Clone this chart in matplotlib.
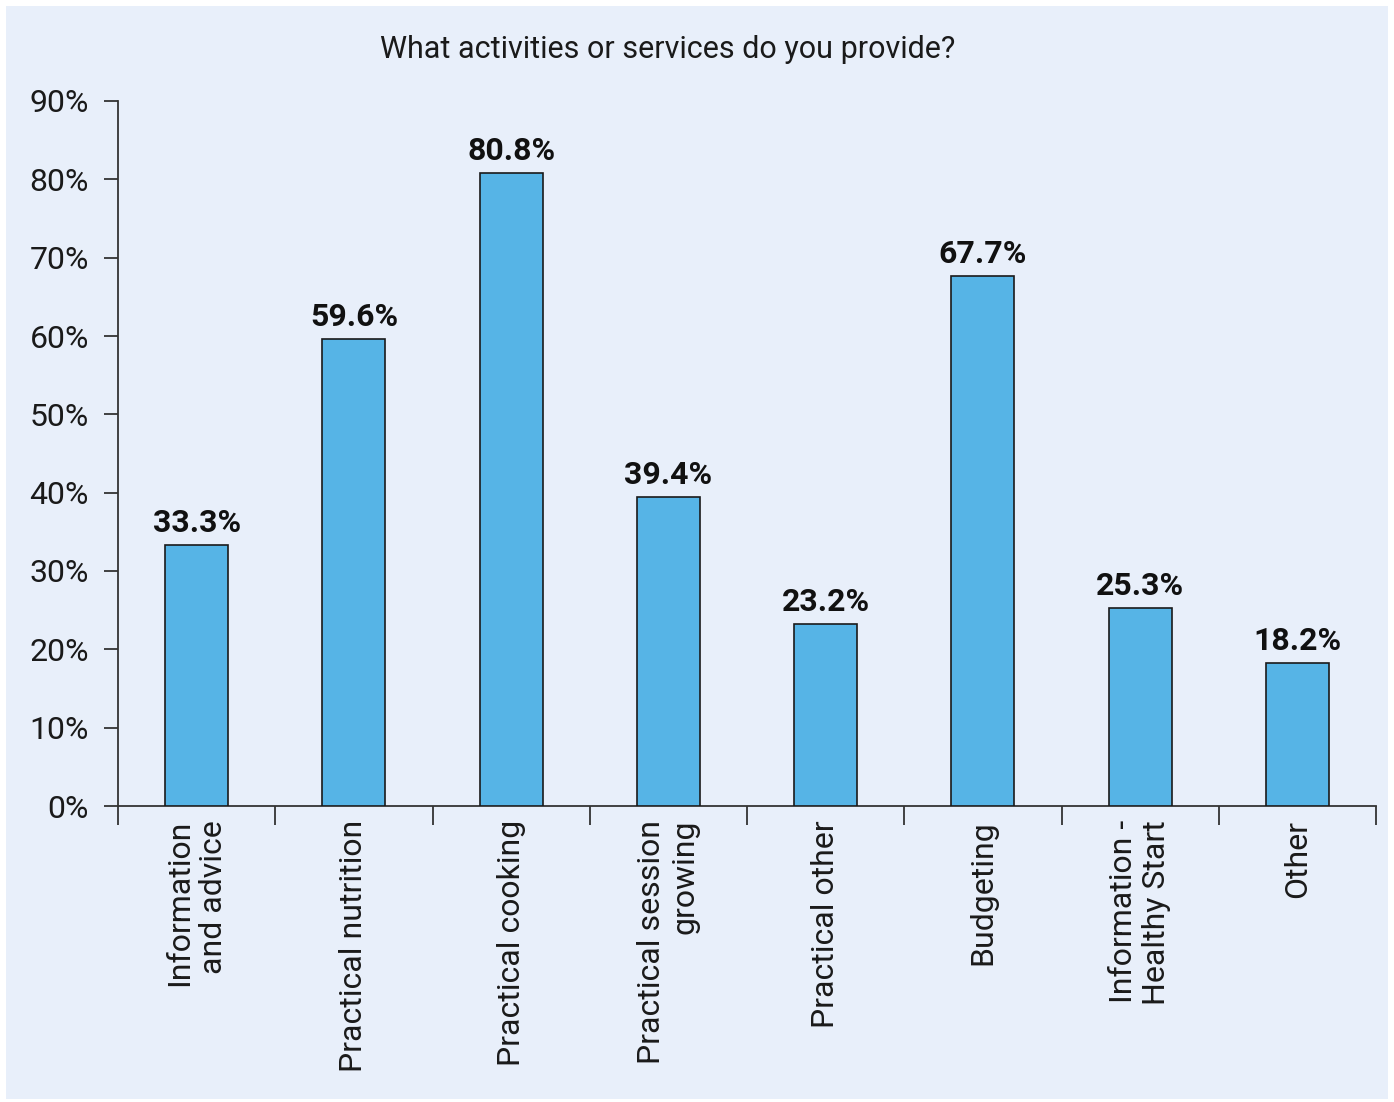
import matplotlib
matplotlib.use("Agg")
import matplotlib.pyplot as plt
from matplotlib.patches import Rectangle
import numpy as np

categories = ["Information\nand advice", "Practical nutrition", "Practical cooking",
              "Practical session\ngrowing", "Practical other", "Budgeting",
              "Information -\nHealthy Start", "Other"]
values = [33.3, 59.6, 80.8, 39.4, 23.2, 67.7, 25.3, 18.2]
value_labels = ["33.3%", "59.6%", "80.8%", "39.4%", "23.2%", "67.7%", "25.3%", "18.2%"]
yticks = [0, 10, 20, 30, 40, 50, 60, 70, 80, 90]
ytick_labels = ["0%", "10%", "20%", "30%", "40%", "50%", "60%", "70%", "80%", "90%"]
title = "What activities or services do you provide?"

plt.rcParams['font.family'] = ['Roboto', 'DejaVu Sans']
W, H = 1394, 1102
bg = "#E8EFFA"
fig = plt.figure(figsize=(W/100, H/100), dpi=100, facecolor="white")
fig.patches.append(Rectangle((6/W, 3/H), 1 - 12/W, 1 - 9/H, transform=fig.transFigure,
                             facecolor=bg, edgecolor="none", zorder=-10))

ax = fig.add_axes([118/W, 1 - 806/H, (1376-118)/W, (806-101)/H])
ax.patch.set_alpha(0)

x = np.arange(len(categories))
ax.bar(x, values, width=0.4, color="#56B4E6", edgecolor="#1a1a1a", linewidth=1.2, zorder=3)
for xi, v, lab in zip(x, values, value_labels):
    ax.annotate(lab, (xi, v), xytext=(0, 5), textcoords="offset points",
                ha="center", va="bottom", fontsize=23, fontweight="bold", color="#111111")

ax.set_xlim(-0.5, len(categories) - 0.5)
ax.set_ylim(0, 90)
ax.set_yticks(yticks)
ax.set_yticklabels(ytick_labels, fontsize=23, color="#1a1a1a")

ax.set_xticks(x)
ax.set_xticklabels(categories, rotation=90, fontsize=23, color="#1a1a1a",
                   va="top", ha="center", multialignment="right")
ax.tick_params(axis="x", which="major", length=0, pad=10)
ax.set_xticks(np.arange(-0.5, len(categories)), minor=True)
ax.tick_params(axis="x", which="minor", length=14, width=1.3, color="#333333", direction="out")
ax.tick_params(axis="y", length=10, width=1.3, color="#333333", pad=11)

for s in ["top", "right"]:
    ax.spines[s].set_visible(False)
for s in ["left", "bottom"]:
    ax.spines[s].set_color("#333333")
    ax.spines[s].set_linewidth(1.3)

fig.text(668/W, 1 - 50/H, title, ha="center", va="center", fontsize=22, color="#1a1a1a")

fig.savefig("out.png", dpi=100, facecolor="white")
